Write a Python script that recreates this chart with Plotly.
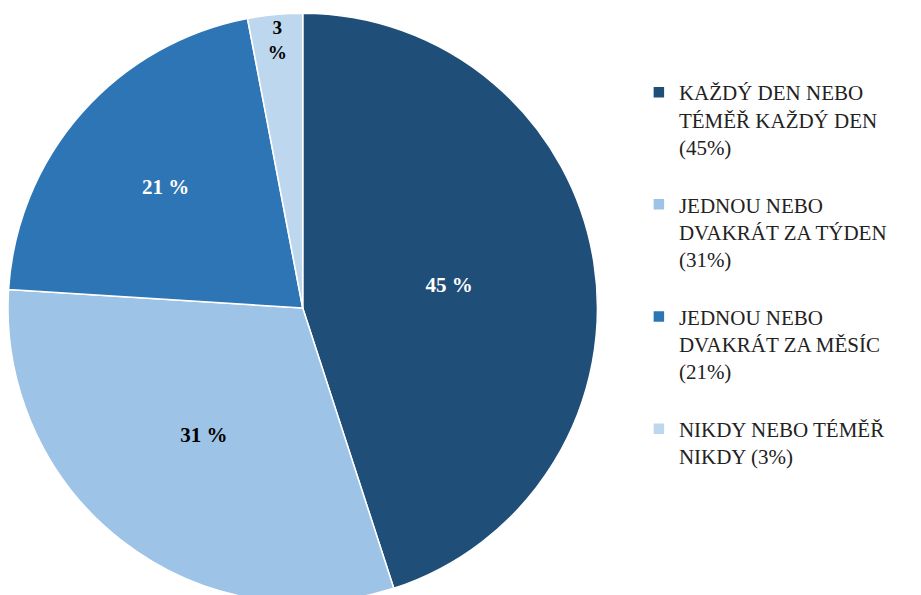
import plotly.graph_objects as go

labels = [
    "KAŽDÝ DEN NEBO<br>TÉMĚŘ KAŽDÝ DEN<br>(45%)<br> ",
    "JEDNOU NEBO<br>DVAKRÁT ZA TÝDEN<br>(31%)<br> ",
    "JEDNOU NEBO<br>DVAKRÁT ZA MĚSÍC<br>(21%)<br> ",
    "NIKDY NEBO TÉMĚŘ<br>NIKDY (3%)",
]
values = [45, 31, 21, 3]
slice_text = ["45 %", "31 %", "21 %", "3<br>%"]
colors = ["#1F4E79", "#9DC3E6", "#2E75B6", "#BDD7EE"]
text_colors = ["white", "black", "white", "black"]

SERIF = "Liberation Serif"

fig = go.Figure()
fig.add_trace(go.Pie(
    labels=labels,
    values=values,
    text=slice_text,
    textinfo="text",
    textposition="inside",
    insidetextorientation="horizontal",
    sort=False,
    direction="clockwise",
    rotation=0,
    marker=dict(colors=colors, line=dict(color="white", width=1.5)),
    textfont=dict(family=SERIF, size=21, color=text_colors, weight="bold"),
    domain=dict(x=[0.0, 0.64], y=[0, 1]),
    hoverinfo="skip",
))

fig.update_layout(
    width=921,
    height=595,
    margin=dict(l=0, r=0, t=5, b=0),
    paper_bgcolor="white",
    plot_bgcolor="white",
    font=dict(family=SERIF),
    showlegend=True,
    legend=dict(
        x=0.685,
        y=0.9,
        xanchor="left",
        yanchor="top",
        valign="top",
        font=dict(family=SERIF, size=21, color="#222222"),
        itemwidth=30,
    ),
)

fig.write_html("out.html")
